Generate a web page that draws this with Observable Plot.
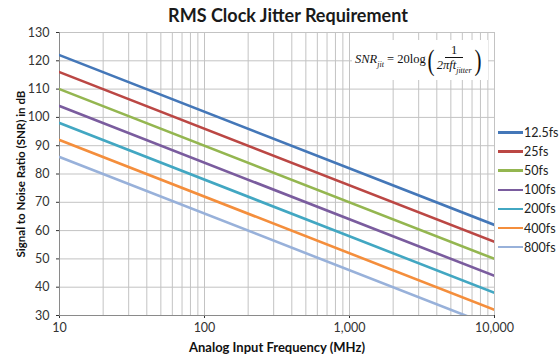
<!DOCTYPE html>
<html><head><meta charset="utf-8">
<script src="https://cdn.jsdelivr.net/npm/d3@7"></script>
<script src="https://cdn.jsdelivr.net/npm/@observablehq/plot@0.6"></script>
<style>
html,body{margin:0;padding:0;background:#fff;}
#wrap{position:relative;width:559px;height:354px;font-family:Lato,"Open Sans",sans-serif;}
#title{position:absolute;left:0;width:576px;top:4px;text-align:center;font-weight:bold;font-size:18px;color:#1a1a1a;}
#legend{position:absolute;left:498px;top:123px;font-size:12.5px;color:#222;}
.li{height:19.1px;display:flex;align-items:center;}
.sw{width:25px;height:2.6px;margin-right:1px;}
#formula{position:absolute;left:352px;top:40px;width:136px;height:40px;background:#fff;font-family:"Liberation Serif","DejaVu Serif",serif;font-size:12.5px;color:#111;display:flex;align-items:center;}
#formula i{font-style:italic}
.frac{display:inline-flex;flex-direction:column;align-items:center;vertical-align:middle;margin:0 1px;}
.frac .n{border-bottom:1px solid #111;padding:0 6px;line-height:14px;}
.frac .d{line-height:15px;font-style:italic}
.par{font-size:30px;line-height:30px;font-weight:lighter;transform:scaleX(0.7);display:inline-block}
sub{font-size:8px;font-style:italic}
svg text{font-family:Lato,"Open Sans",sans-serif;}
g[aria-label="x-axis label"] text{font-weight:bold;fill:#111;font-size:13px}
g[aria-label="y-axis label"] text{font-weight:bold;fill:#111;font-size:11.5px}
</style></head>
<body><div id="wrap"><div id="title">RMS Clock Jitter Requirement</div></div>
<script>
// Data
const jitters = ["12.5fs","25fs","50fs","100fs","200fs","400fs","800fs"];
const snrAt10MHz = [122,116,110,104,98,92,86];
const snrAt10000MHz = [62,56,50,44,38,32,26];
const colors = ["#4477b8","#bb4744","#94b650","#7a5c9e","#42a7c2","#f48e3c","#98b1da"];
const xTicks = [10,100,1000,10000];
const xGrid = [10,20,30,40,50,60,70,80,90,100,200,300,400,500,600,700,800,900,1000,2000,3000,4000,5000,6000,7000,8000,9000,10000];
const yTicks = [30,40,50,60,70,80,90,100,110,120,130];

const rows = [];
jitters.forEach((j,i)=>{
  rows.push({series:j,f:10,snr:snrAt10MHz[i]});
  rows.push({series:j,f:10000,snr:snrAt10000MHz[i]});
});

const chart = Plot.plot({
  width:559, height:354,
  marginLeft:59, marginRight:65, marginTop:32, marginBottom:39,
  style:{fontSize:"12.5px", color:"#333", background:"transparent"},
  x:{type:"log", domain:[10,10000], ticks:xTicks, tickFormat:d3.format(","), tickSize:3, tickPadding:5,
     label:"Analog Input Frequency (MHz)", labelArrow:"none", labelAnchor:"center", labelOffset:36},
  y:{domain:[30,130], ticks:yTicks, tickSize:3, tickPadding:7,
     label:"Signal to Noise Ratio (SNR) in dB", labelArrow:"none", labelAnchor:"center", labelOffset:43},
  color:{domain:jitters, range:colors},
  marks:[
    Plot.ruleX(xGrid,{stroke:"#c3c3c3", strokeWidth:1}),
    Plot.ruleY(yTicks,{stroke:"#c3c3c3", strokeWidth:1}),
    Plot.ruleX([10],{stroke:"#8a8a8a"}),
    Plot.ruleY([30],{stroke:"#8a8a8a"}),
    Plot.line(rows,{x:"f", y:"snr", z:"series", stroke:"series", strokeWidth:2.6, clip:true})
  ]
});
document.getElementById("wrap").appendChild(chart);

// formula box
const fb = document.createElement("div");
fb.id="formula";
fb.innerHTML = '<span style="margin-left:3px"><i>SNR</i><sub>jit</sub> = 20log</span><span class="par">(</span><span class="frac"><span class="n">1</span><span class="d">2πft<sub>jitter</sub></span></span><span class="par">)</span>';
document.getElementById("wrap").appendChild(fb);

// legend
const lg = document.createElement("div");
lg.id="legend";
jitters.forEach((j,i)=>{
  const d=document.createElement("div");d.className="li";
  d.innerHTML='<span class="sw" style="background:'+colors[i]+'"></span><span>'+j+'</span>';
  lg.appendChild(d);
});
document.getElementById("wrap").appendChild(lg);
</script></body></html>
